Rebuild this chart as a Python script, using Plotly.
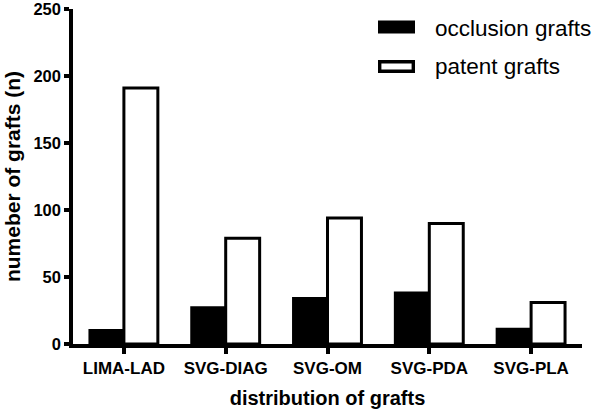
import plotly.graph_objects as go

categories = ["LIMA-LAD", "SVG-DIAG", "SVG-OM", "SVG-PDA", "SVG-PLA"]
occlusion = [10, 27, 34, 38, 11]
patent = [191, 79, 94, 90, 31]
y_ticks = [0, 50, 100, 150, 200, 250]
series_names = ["occlusion grafts", "patent grafts"]

FONT = "Liberation Sans, Arial, sans-serif"

W, H = 597, 412
L, R, T, B = 73, 15, 9, 68
PW, PH = W - L - R, H - T - B


def px_x(px):
    return (px - L) / PW


def px_y(py):
    return (H - B - py) / PH


fig = go.Figure()
fig.add_trace(go.Bar(
    x=categories, y=occlusion, name=series_names[0],
    marker=dict(color="black", line=dict(color="black", width=3)),
))
fig.add_trace(go.Bar(
    x=categories, y=patent, name=series_names[1],
    marker=dict(color="white", line=dict(color="black", width=3)),
))

# legend drawn as swatches + text
fig.add_shape(type="rect", xref="paper", yref="paper",
              x0=px_x(378), x1=px_x(415), y0=px_y(33.5), y1=px_y(20.5),
              fillcolor="black", line=dict(width=0))
fig.add_shape(type="rect", xref="paper", yref="paper",
              x0=px_x(379.7), x1=px_x(413.3), y0=px_y(71.3), y1=px_y(61.7),
              fillcolor="white", line=dict(color="black", width=3.4))
fig.add_annotation(text=series_names[0], xref="paper", yref="paper",
                   x=px_x(433), y=px_y(29), xanchor="left", yanchor="middle",
                   showarrow=False, font=dict(size=22.5, family=FONT, color="black"))
fig.add_annotation(text=series_names[1], xref="paper", yref="paper",
                   x=px_x(433), y=px_y(66), xanchor="left", yanchor="middle",
                   showarrow=False, font=dict(size=22.5, family=FONT, color="black"))

fig.update_layout(
    width=W, height=H,
    margin=dict(l=L, r=R, t=T, b=B, autoexpand=False),
    paper_bgcolor="white", plot_bgcolor="white",
    barmode="group", bargap=0.333, bargroupgap=0,
    font=dict(family=FONT, color="black"),
    showlegend=False,
    xaxis=dict(
        range=[-0.5, 4.5],
        showline=True, linecolor="black", linewidth=3.5,
        ticks="outside", ticklen=6, tickwidth=3.5, tickcolor="black",
        tickfont=dict(size=17, family=FONT, color="black", weight="bold"),
        title=dict(text="<b>distribution of grafts</b>", font=dict(size=20, family=FONT, color="black"), standoff=15),
        showgrid=False, zeroline=False, automargin=False,
    ),
    yaxis=dict(
        range=[0, 250],
        tickvals=y_ticks,
        showline=True, linecolor="black", linewidth=3.5,
        ticks="outside", ticklen=5, tickwidth=3.5, tickcolor="black",
        tickfont=dict(size=16.5, family=FONT, color="black", weight="bold"),
        ticklabeloverflow="allow",
        title=dict(text="<b>numeber of grafts (n)</b>", font=dict(size=21, family=FONT, color="black"), standoff=8),
        showgrid=False, zeroline=False, automargin=False,
    ),
)

fig.write_html("out.html", config={"displayModeBar": False},
               post_script="document.body.style.margin='0';document.body.style.overflow='hidden';")
